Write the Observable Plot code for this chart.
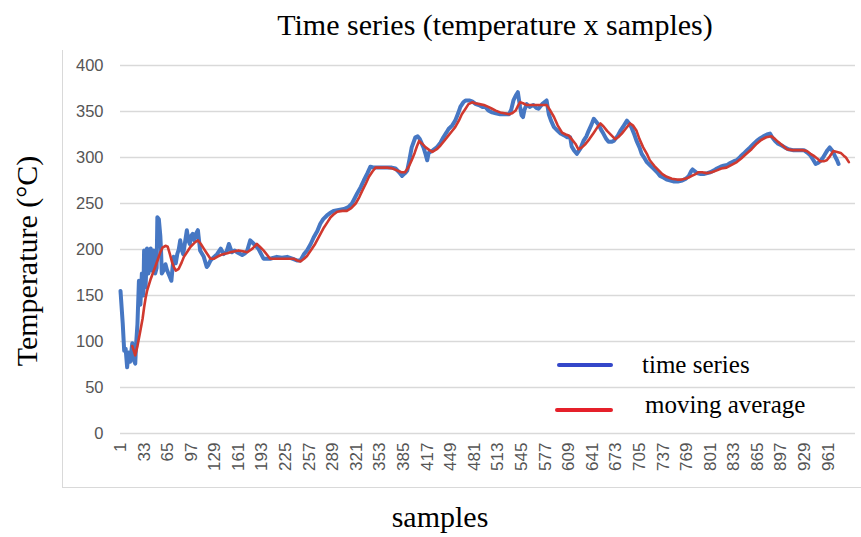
<!DOCTYPE html>
<html><head><meta charset="utf-8">
<script src="https://cdn.jsdelivr.net/npm/d3@7"></script>
<script src="https://cdn.jsdelivr.net/npm/@observablehq/plot@0.6"></script>
<style>
body{margin:0;background:#fff;}
#wrap{position:relative;width:861px;height:537px;overflow:hidden;background:#fff;font-family:"Liberation Serif","Times New Roman",serif;color:#000;}
#frame{position:absolute;left:62px;top:50px;width:820px;height:437px;border-left:1px solid #d9d9d9;border-bottom:1px solid #d9d9d9;}
#chart{position:absolute;left:0;top:0;}
#title{position:absolute;left:0;top:10px;width:990px;text-align:center;font-size:30px;line-height:30px;white-space:nowrap;}
#ylabel{position:absolute;left:27px;top:261px;transform:translate(-50%,-50%) rotate(-90deg);font-size:30px;line-height:30px;white-space:nowrap;}
#xlabel{position:absolute;left:340px;top:502px;width:200px;text-align:center;font-size:30px;line-height:30px;}
.lg{position:absolute;font-size:25px;line-height:25px;white-space:nowrap;}
.bar{position:absolute;height:4px;border-radius:2px;}
</style></head><body>
<div id="wrap">
 <div id="frame"></div>
 <div id="chart"></div>
 <div id="title">Time series (temperature x samples)</div>
 <div id="ylabel">Temperature (°C)</div>
 <div id="xlabel">samples</div>
 <div class="bar" style="left:557px;top:363px;width:56px;background:#3447c9"></div>
 <div class="lg" style="left:642px;top:352px">time series</div>
 <div class="bar" style="left:555px;top:408px;width:58px;background:#e5202a"></div>
 <div class="lg" style="left:645px;top:392px">moving average</div>
</div>
<script>
const yTicks = [0, 50, 100, 150, 200, 250, 300, 350, 400];
const xTicks = [1, 33, 65, 97, 129, 161, 193, 225, 257, 289, 321, 353, 385, 417, 449, 481, 513, 545, 577, 609, 641, 673, 705, 737, 769, 801, 833, 865, 897, 929, 961];

const seriesSamples = [1,4,6,8,10,12,14,17,19,21,22,24,26,28,30,32,33,35,37,39,42,44,46,48,50,51,53,55,56,57,60,62,64,66,68,70,73,76,78,80,82,84,86,88,91,93,95,97,99,101,104,106,109,114,118,120,123,128,132,137,141,145,148,152,156,159,166,170,173,177,182,188,195,204,213,220,227,234,241,245,250,254,259,263,268,272,276,281,286,290,297,304,310,315,322,327,331,336,340,345,349,356,363,369,374,379,383,387,390,393,396,401,404,407,412,415,417,419,421,425,430,435,439,443,446,451,455,459,462,466,469,474,478,483,487,492,496,500,505,510,516,522,528,531,534,537,540,543,545,547,549,552,556,561,565,568,571,573,576,579,582,585,589,594,598,603,607,611,613,616,620,625,629,633,636,640,643,646,650,653,656,660,663,667,670,675,679,684,688,691,694,698,701,705,708,712,715,720,724,729,733,738,742,747,751,757,763,768,772,775,777,780,783,788,792,797,801,806,810,815,819,824,828,833,837,842,846,851,855,860,864,869,873,878,882,885,889,893,898,902,907,913,919,924,928,933,937,941,944,947,950,954,957,960,963,966,968,971,973,975];
const seriesValues = [155,120,90,92,72,88,78,98,80,76,95,119,166,140,174,150,199,159,201,174,201,177,199,174,180,235,233,215,199,174,178,184,178,174,170,166,192,185,195,200,210,200,195,205,221,210,206,215,217,210,218,221,199,192,181,183,188,192,195,201,195,198,206,197,199,197,194,196,199,210,206,201,190,190,192,191,192,190,188,188,195,199,206,213,220,228,233,237,240,242,243,244,246,250,261,268,275,283,290,289,289,289,289,289,288,284,280,283,286,298,311,322,323,320,311,303,297,305,306,308,311,316,322,327,331,335,340,348,355,360,362,362,361,358,357,355,355,351,349,348,347,347,347,352,362,367,371,355,346,344,352,358,355,357,354,353,356,358,360,362,347,340,333,329,326,324,322,322,312,308,304,310,318,323,329,336,342,339,335,330,326,320,317,317,318,323,329,335,340,337,333,325,318,311,304,299,295,291,288,284,280,278,276,275,274,274,275,277,280,285,287,285,283,282,282,283,284,286,288,290,291,292,294,296,297,301,304,308,311,315,318,321,323,325,326,322,318,315,313,311,309,308,308,308,308,305,302,297,293,294,296,300,304,308,311,308,305,300,297,293];

const avgSamples = [17,19,21,24,28,31,33,35,37,42,48,52,55,58,62,65,68,71,74,76,80,84,87,92,96,101,106,110,114,118,123,128,132,137,141,146,150,156,161,167,173,180,186,190,195,200,204,212,222,230,236,241,245,250,254,260,265,271,277,282,286,290,295,302,308,314,320,325,329,334,338,343,347,355,363,370,376,382,387,392,396,400,403,406,410,415,420,424,430,435,440,446,450,455,460,464,469,473,478,482,488,494,500,505,510,516,522,528,532,537,540,543,547,552,558,563,570,575,579,584,589,594,600,605,609,613,618,622,627,631,637,643,648,652,656,661,667,672,676,681,686,692,696,701,705,710,715,719,725,731,736,742,749,756,762,767,771,776,781,785,790,796,803,810,816,823,830,837,843,850,857,864,870,877,884,889,893,899,905,912,919,926,932,937,941,946,950,955,959,963,968,973,978,982,985,989];
const avgValues = [95,90,85,95,112,125,137,147,155,168,181,190,197,202,204,203,195,186,180,177,179,186,192,198,203,207,210,206,201,196,190,190,192,194,195,196,197,198,199,198,197,201,206,203,199,194,190,190,190,190,190,188,187,190,193,200,206,215,224,230,235,238,241,242,242,245,250,257,264,272,279,285,289,289,289,288,286,284,284,290,297,305,312,318,315,311,308,306,309,313,318,324,328,333,340,347,353,358,360,359,358,357,355,353,351,349,348,347,348,351,356,360,359,357,357,357,357,357,357,351,344,335,327,325,324,320,315,309,311,314,320,327,333,337,334,329,324,320,322,326,331,337,335,329,320,311,304,297,291,286,282,279,277,276,276,277,278,280,282,284,284,283,284,286,288,289,292,295,299,304,309,315,319,322,323,320,317,313,309,308,308,308,307,304,302,299,296,296,297,301,307,306,305,302,300,295];

const series = seriesSamples.map((s, i) => ({sample: s, temp: seriesValues[i]}));
const average = avgSamples.map((s, i) => ({sample: s, temp: avgValues[i]}));

const chart = Plot.plot({
  width: 861,
  height: 537,
  marginLeft: 120,
  marginRight: 6,
  marginTop: 65,
  marginBottom: 104,
  style: {background: "transparent", fontFamily: "'Liberation Sans', Arial, sans-serif", color: "#555"},
  x: {domain: [1, 998]},
  y: {domain: [0, 400]},
  marks: [
    Plot.ruleY(yTicks, {stroke: "#d9d9d9", strokeWidth: 1.3}),
    Plot.axisY(yTicks, {tickSize: 0, tickPadding: 17, fontSize: 16.5, fill: "#555", label: null}),
    Plot.axisX(xTicks, {tickSize: 0, tickPadding: 9, tickRotate: -90, fontSize: 17, fill: "#555", label: null}),
    Plot.line(series, {x: "sample", y: "temp", stroke: "#4677c3", strokeWidth: 4, strokeLinejoin: "round"}),
    Plot.line(average, {x: "sample", y: "temp", stroke: "#d0392f", strokeWidth: 2.6, strokeLinejoin: "round"})
  ]
});
document.getElementById("chart").appendChild(chart);
</script>
</body></html>
